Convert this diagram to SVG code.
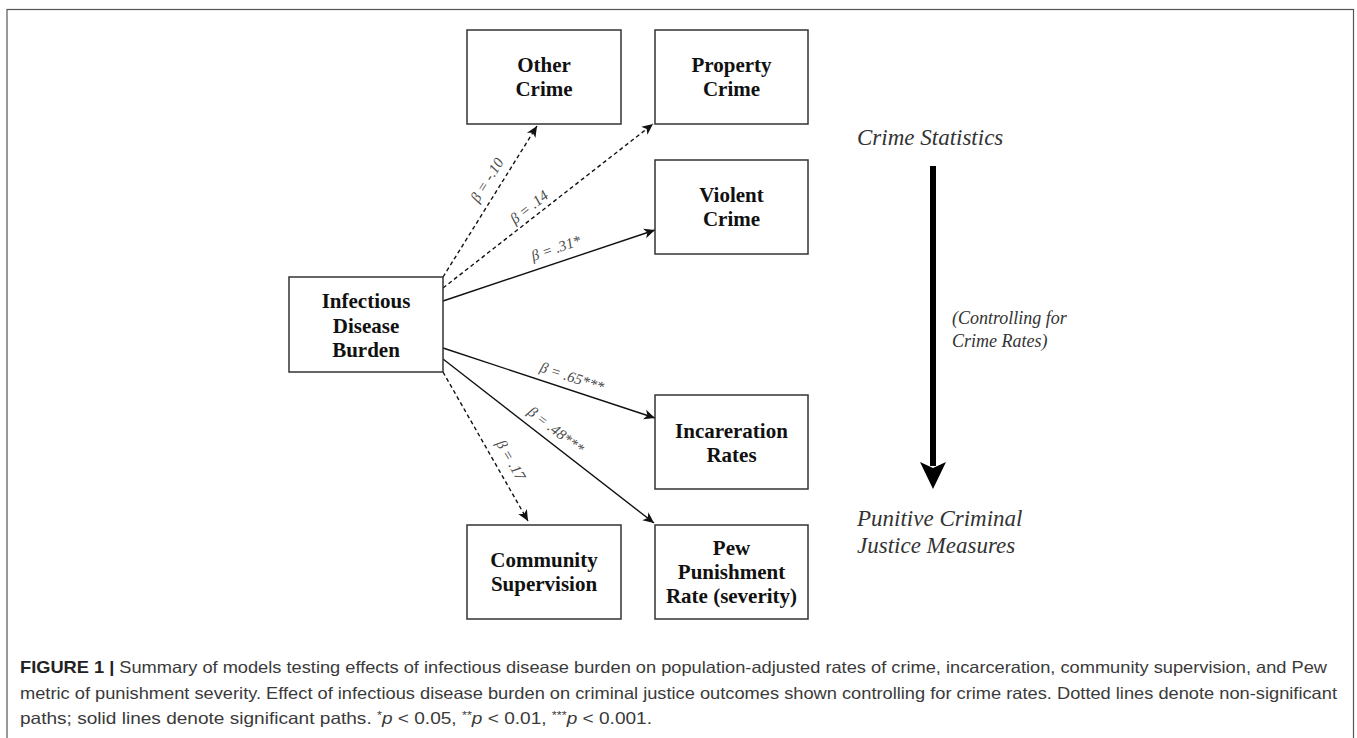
<svg xmlns="http://www.w3.org/2000/svg" width="1357" height="738" viewBox="0 0 1357 738">
<defs>
<marker id="ah" markerUnits="userSpaceOnUse" markerWidth="12" markerHeight="12" refX="11" refY="5" orient="auto" viewBox="0 0 12 10">
<path d="M0,0 L11,5 L0,10 L3,5 Z" fill="#111"/>
</marker>
<style>
.box{fill:#fff;stroke:#333;stroke-width:1.5}
.nt{font-family:"Liberation Serif","Times New Roman",serif;font-weight:bold;font-size:21px;fill:#111;text-anchor:middle}
.edge{stroke:#111;stroke-width:1.4;fill:none;marker-end:url(#ah)}
.dash{stroke-dasharray:4 3}
.lbl{font-family:"Liberation Serif","Times New Roman",serif;font-style:italic;font-size:15px;fill:#4a4a4a;text-anchor:middle}
.side{font-family:"Liberation Serif","Times New Roman",serif;font-style:italic;fill:#333}
.cap{font-family:"Liberation Sans",Arial,sans-serif;font-size:16.5px;fill:#3a3a3a}
</style>
</defs>
<rect x="7" y="9.5" width="1346.5" height="740" fill="none" stroke="#555" stroke-width="1.2"/>

<g id="connectors">
<line class="edge dash" x1="443" y1="277" x2="537" y2="126"/>
<line class="edge dash" x1="443" y1="288" x2="653" y2="124"/>
<line class="edge" x1="443" y1="301" x2="655" y2="230"/>
<line class="edge" x1="443" y1="348" x2="655" y2="418"/>
<line class="edge" x1="443" y1="359" x2="654" y2="523"/>
<line class="edge dash" x1="443" y1="372" x2="528" y2="521"/>
<text class="lbl" transform="translate(487,180) rotate(-58)" y="5">β = -.10</text>
<text class="lbl" transform="translate(529,207) rotate(-38.3)" y="5">β = .14</text>
<text class="lbl" transform="translate(556,248) rotate(-18.5)" y="5">β = .31*</text>
<text class="lbl" transform="translate(572,377) rotate(18.3)" y="5">β = .65***</text>
<text class="lbl" transform="translate(556,430) rotate(37.9)" y="5">β = .48***</text>
<text class="lbl" transform="translate(511,460) rotate(60.1)" y="5">β = .17</text>
</g>

<g id="infectious">
<rect class="box" x="289" y="277" width="154" height="95"/>
<text class="nt" x="366" y="308">Infectious</text>
<text class="nt" x="366" y="333">Disease</text>
<text class="nt" x="366" y="357">Burden</text>
</g>
<g id="other-crime">
<rect class="box" x="467" y="30" width="154" height="94"/>
<text class="nt" x="544" y="72">Other</text>
<text class="nt" x="544" y="96">Crime</text>
</g>
<g id="property-crime">
<rect class="box" x="655" y="30" width="153" height="94"/>
<text class="nt" x="731.5" y="72">Property</text>
<text class="nt" x="731.5" y="96">Crime</text>
</g>
<g id="violent-crime">
<rect class="box" x="655" y="160" width="153" height="94"/>
<text class="nt" x="731.5" y="202">Violent</text>
<text class="nt" x="731.5" y="226">Crime</text>
</g>
<g id="incarceration">
<rect class="box" x="655" y="395" width="153" height="94"/>
<text class="nt" x="731.5" y="438">Incareration</text>
<text class="nt" x="731.5" y="462">Rates</text>
</g>
<g id="community">
<rect class="box" x="467" y="525" width="154" height="94"/>
<text class="nt" x="544" y="567">Community</text>
<text class="nt" x="544" y="591">Supervision</text>
</g>
<g id="pew">
<rect class="box" x="655" y="525" width="153" height="94"/>
<text class="nt" x="731.5" y="555">Pew</text>
<text class="nt" x="731.5" y="579">Punishment</text>
<text class="nt" x="731.5" y="603">Rate (severity)</text>
</g>

<g id="side-arrow">
<text class="side" x="857" y="145" font-size="23">Crime Statistics</text>
<line x1="933" y1="166" x2="933" y2="466" stroke="#000" stroke-width="6"/>
<path d="M920,462 L933,468 L946,462 L933,489 Z" fill="#000"/>
<text class="side" x="952" y="324" font-size="18">(Controlling for</text>
<text class="side" x="952" y="347" font-size="18">Crime Rates)</text>
<text class="side" x="857" y="526" font-size="23">Punitive Criminal</text>
<text class="side" x="857" y="553" font-size="23">Justice Measures</text>
</g>

<g id="caption">
<text class="cap" x="20" y="673" textLength="1307" lengthAdjust="spacingAndGlyphs"><tspan font-weight="bold" fill="#222">FIGURE 1 |</tspan> Summary of models testing effects of infectious disease burden on population-adjusted rates of crime, incarceration, community supervision, and Pew</text>
<text class="cap" x="20" y="699" textLength="1317" lengthAdjust="spacingAndGlyphs">metric of punishment severity. Effect of infectious disease burden on criminal justice outcomes shown controlling for crime rates. Dotted lines denote non-significant</text>
<text class="cap" x="20" y="724" textLength="632" lengthAdjust="spacingAndGlyphs">paths; solid lines denote significant paths. <tspan font-size="11" dy="-5">*</tspan><tspan font-style="italic" dy="5">p</tspan> &lt; 0.05, <tspan font-size="11" dy="-5">**</tspan><tspan font-style="italic" dy="5">p</tspan> &lt; 0.01, <tspan font-size="11" dy="-5">***</tspan><tspan font-style="italic" dy="5">p</tspan> &lt; 0.001.</text>
</g>
</svg>
